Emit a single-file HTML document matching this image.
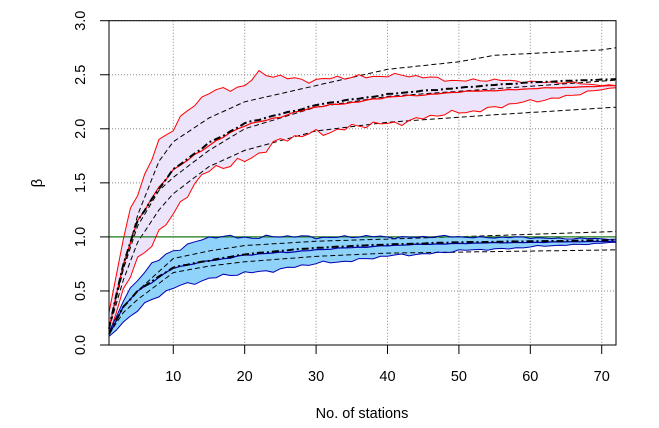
<!DOCTYPE html>
<html><head><meta charset="utf-8"><style>
html,body{margin:0;padding:0;background:#fff;}
svg{display:block;font-family:"Liberation Sans",sans-serif;}
</style></head><body>
<svg id="s" width="659" height="428" xmlns="http://www.w3.org/2000/svg"></svg>
<script>
const S=document.getElementById('s');
const X0=109,X1=616,Y0=345,Y3=20.7;
const sx=n=>X0+(n-1)*(X1-X0)/71, sy=v=>Y0-v*(Y0-Y3)/3;
function interp(a,n){for(let i=0;i<a.length-1;i++){if(n<=a[i+1][0]){const t=(n-a[i][0])/(a[i+1][0]-a[i][0]);return a[i][1]+t*(a[i+1][1]-a[i][1]);}}return a[a.length-1][1];}
function noise(n,seed,amp){return amp*(Math.sin(n*2.3+seed)*0.5+Math.sin(n*5.7+seed*2.1)*0.3+Math.sin(n*11.3+seed*3.7)*0.3);}
function series(a,seed,amp){const p=[];for(let n=1;n<=72;n++){let v=interp(a,n);if(n>1&&n<72)v+=noise(n,seed,amp*(1-n/90));p.push([sx(n),sy(v)]);}return p;}
function pts(p){return p.map(q=>q[0].toFixed(1)+','+q[1].toFixed(1)).join(' ');}
let h='';
for(let v=0;v<=3;v+=0.5)h+=`<line x1="${X0}" x2="${X1}" y1="${sy(v)}" y2="${sy(v)}" stroke="#888" stroke-dasharray="1,2"/>`;
for(let n=10;n<=70;n+=10)h+=`<line y1="${Y3}" y2="${Y0}" x1="${sx(n)}" x2="${sx(n)}" stroke="#888" stroke-dasharray="1,2"/>`;
const rU=series([[1,0.3],[3,0.95],[4,1.3],[5,1.4],[8,1.9],[10,2.0],[12,2.15],[15,2.35],[20,2.4],[22,2.5],[30,2.45],[40,2.5],[50,2.45],[60,2.44],[72,2.4]],1,0.05);
const rL=series([[1,0.1],[3,0.5],[5,0.75],[8,1.05],[10,1.22],[12,1.42],[15,1.6],[20,1.72],[25,1.88],[30,1.97],[40,2.05],[50,2.15],[60,2.25],[72,2.38]],2,0.07);
const rM=series([[1,0.15],[3,0.75],[5,1.15],[8,1.45],[10,1.62],[15,1.85],[20,2.03],[30,2.2],[40,2.29],[50,2.34],[60,2.37],[72,2.4]],3,0.015);
const rMean=series([[1,0.15],[3,0.75],[5,1.15],[8,1.45],[10,1.62],[15,1.87],[20,2.05],[30,2.22],[40,2.32],[50,2.38],[60,2.43],[72,2.46]],4,0.01);
const bU=series([[1,0.12],[3,0.4],[5,0.6],[7,0.75],[10,0.88],[13,0.95],[16,1.0],[30,1.0],[50,1.0],[72,0.98]],5,0.03);
const bL=series([[1,0.08],[3,0.22],[5,0.33],[8,0.45],[10,0.53],[15,0.62],[20,0.66],[30,0.75],[40,0.82],[50,0.87],[72,0.95]],6,0.03);
const bM=series([[1,0.1],[3,0.35],[5,0.5],[10,0.71],[15,0.78],[20,0.83],[30,0.88],[40,0.92],[50,0.94],[72,0.96]],7,0.01);
const bMean=series([[1,0.1],[3,0.35],[5,0.5],[10,0.72],[20,0.84],[30,0.9],[40,0.93],[50,0.95],[72,0.97]],8,0.005);
h+=`<polygon points="${pts(rU)} ${pts(rL.slice().reverse())}" fill="#ece4fa"/>`;
h+=`<polygon points="${pts(bU)} ${pts(bL.slice().reverse())}" fill="#8fd3fb"/>`;
const smooth=(a)=>{const p=[];for(let n=1;n<=72;n+=0.5)p.push([sx(n),sy(interp(a,n))]);return pts(p);};
const dash=(a)=>`<polyline points="${smooth(a)}" fill="none" stroke="#000" stroke-width="1" stroke-dasharray="5,3"/>`;
h+=dash([[1,0.15],[3,0.7],[5,1.2],[8,1.7],[10,1.88],[15,2.1],[20,2.25],[30,2.4],[40,2.55],[50,2.62],[55,2.68],[70,2.73],[72,2.75]]);
h+=dash([[1,0.15],[3,0.6],[5,0.95],[8,1.25],[10,1.4],[15,1.65],[20,1.8],[30,1.98],[40,2.06],[55,2.13],[72,2.2]]);
h+=dash([[1,0.15],[3,0.7],[5,1.1],[8,1.43],[10,1.55],[15,1.8],[20,2.0],[30,2.2],[40,2.3],[72,2.45]]);
h+=dash([[1,0.1],[3,0.35],[5,0.5],[10,0.8],[15,0.87],[20,0.92],[30,0.96],[40,0.98],[72,1.05]]);
h+=dash([[1,0.1],[3,0.3],[5,0.42],[10,0.67],[15,0.73],[20,0.77],[30,0.82],[40,0.85],[72,0.88]]);
h+=`<line x1="${X0}" x2="${X1}" y1="${sy(1)}" y2="${sy(1)}" stroke="#1a7a1a" stroke-width="1.3"/>`;
h+=`<polyline points="${pts(rU)}" fill="none" stroke="#f00"/>`;
h+=`<polyline points="${pts(rL)}" fill="none" stroke="#f00"/>`;
h+=`<polyline points="${pts(rM)}" fill="none" stroke="#f00" stroke-width="1.2"/>`;
h+=`<polyline points="${pts(bU)}" fill="none" stroke="#0000b0"/>`;
h+=`<polyline points="${pts(bL)}" fill="none" stroke="#0000b0"/>`;
h+=`<polyline points="${pts(bM)}" fill="none" stroke="#0000b0" stroke-width="1.2"/>`;
h+=`<polyline points="${pts(rMean)}" fill="none" stroke="#000" stroke-width="2" stroke-dasharray="7,3,2,3"/>`;
h+=`<polyline points="${pts(bMean)}" fill="none" stroke="#000" stroke-width="2" stroke-dasharray="7,3,2,3"/>`;
h+=`<rect x="${X0}" y="${Y3}" width="${X1-X0}" height="${Y0-Y3}" fill="none" stroke="#000"/>`;
for(let v=0;v<=3;v+=0.5){const y=sy(v);h+=`<line x1="100" x2="${X0}" y1="${y}" y2="${y}" stroke="#000"/><text x="85" y="${y}" font-size="14.5" text-anchor="middle" transform="rotate(-90 85 ${y})">${v.toFixed(1)}</text>`;}
for(let n=10;n<=70;n+=10){const x=sx(n);h+=`<line y1="${Y0}" y2="354" x1="${x}" x2="${x}" stroke="#000"/><text x="${x}" y="381" font-size="14.5" text-anchor="middle">${n}</text>`;}
h+=`<text x="42" y="183" font-size="15" text-anchor="middle" transform="rotate(-90 42 183)">β</text>`;
h+=`<text x="362" y="418" font-size="14.5" text-anchor="middle">No. of stations</text>`;
S.innerHTML=h;
</script>
</body></html>
